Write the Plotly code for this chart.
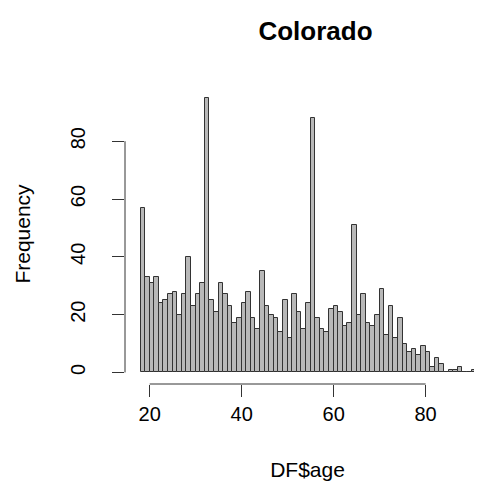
import plotly.graph_objects as go

# Histogram of DF$age for Colorado: 1-year bins, left edges and counts
bin_start = [18, 19, 20, 21, 22, 23, 24, 25, 26, 27, 28, 29, 30, 31, 32, 33, 34, 35, 36, 37,
             38, 39, 40, 41, 42, 43, 44, 45, 46, 47, 48, 49, 50, 51, 52, 53, 54, 55, 56, 57,
             58, 59, 60, 61, 62, 63, 64, 65, 66, 67, 68, 69, 70, 71, 72, 73, 74, 75, 76, 77,
             78, 79, 80, 81, 82, 83, 84, 85, 86, 87, 88, 89, 90, 91, 92, 93]
counts = [57, 33, 31, 33, 24, 25, 27, 28, 20, 27, 40, 23, 27, 31, 95, 25, 21, 31, 27, 23,
          17, 19, 24, 28, 19, 15, 35, 23, 20, 19, 14, 25, 12, 27, 21, 15, 24, 88, 19, 15,
          14, 22, 23, 21, 16, 17, 51, 20, 27, 17, 16, 20, 29, 13, 23, 12, 19, 10, 7, 8,
          6, 9, 7, 2, 5, 3, 0, 1, 1, 2, 0, 0, 1, 0, 0, 1]
bin_width = 1
x_ticks = [20, 40, 60, 80]
y_ticks = [0, 20, 40, 60, 80]

centers = [b + bin_width / 2 for b in bin_start]

FONT = "Liberation Sans, Arial, Helvetica, sans-serif"

fig = go.Figure()
fig.add_trace(go.Bar(
    x=centers, y=counts, width=bin_width,
    marker=dict(color="#b8b8b8", line=dict(color="#333333", width=1)),
    hovertemplate="age %{x}<br>count %{y}<extra></extra>",
))

fig.update_layout(
    width=482, height=487,
    margin=dict(l=117, r=0, t=76, b=111),
    paper_bgcolor="white", plot_bgcolor="white",
    showlegend=False, bargap=0,
    font=dict(family=FONT, color="#000000"),
    title=dict(text="<b>Colorado</b>", x=307.5 / 482, xanchor="center",
               y=1 - 23 / 487, yanchor="middle", yref="container",
               font=dict(size=26, family=FONT)),
    xaxis=dict(range=[14.63, 94.0], tickmode="array", tickvals=x_ticks,
               ticks="outside", ticklen=12, tickcolor="#333333", tickwidth=1,
               showgrid=False, zeroline=False, showline=False,
               tickfont=dict(size=20), ticklabelstandoff=0,
               title=dict(text="DF$age", font=dict(size=21), standoff=38)),
    yaxis=dict(range=[-4.0, 99.8], tickmode="array", tickvals=y_ticks,
               ticks="outside", ticklen=12, tickcolor="#333333", tickwidth=1,
               tickangle=-90, showgrid=False, zeroline=False, showline=False,
               tickfont=dict(size=20), ticklabelstandoff=19,
               title=dict(text="Frequency", font=dict(size=21), standoff=30)),
)

# R-style axis lines spanning only the tick range
fig.add_shape(type="line", xref="paper", yref="y", x0=0, x1=0,
              y0=y_ticks[0], y1=y_ticks[-1], line=dict(color="#333333", width=1))
fig.add_shape(type="line", xref="x", yref="paper", x0=x_ticks[0], x1=x_ticks[-1],
              y0=0, y1=0, line=dict(color="#333333", width=1))

fig.write_html("out.html")
